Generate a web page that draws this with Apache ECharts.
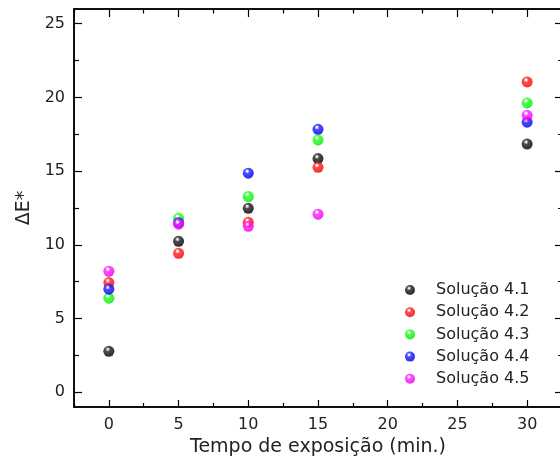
<!DOCTYPE html>
<html>
<head>
<meta charset="utf-8">
<script src="https://cdn.jsdelivr.net/npm/echarts@6/dist/echarts.min.js"></script>
<style>
  html, body { margin: 0; padding: 0; background: #fff; }
  #chart { width: 560px; height: 459px; }
</style>
</head>
<body>
<div id="chart"></div>
<script>
// Exposure time (min.)
const times = [0, 5, 10, 15, 30];

// ΔE* per solution at each exposure time
const sol41 = [2.78, 10.24, 12.48, 15.85, 16.84];
const sol42 = [7.44, 9.43, 11.53, 15.26, 21.05];
const sol43 = [6.38, 11.80, 13.28, 17.12, 19.63];
const sol44 = [6.99, 11.50, 14.86, 17.84, 18.32];
const sol45 = [8.21, 11.40, 11.26, 12.08, 18.79];

const seriesNames = ['Solução 4.1', 'Solução 4.2', 'Solução 4.3', 'Solução 4.4', 'Solução 4.5'];

// Tick positions
const xMajor = [0, 5, 10, 15, 20, 25, 30];
const xMinor = [-2.5, 2.5, 7.5, 12.5, 17.5, 22.5, 27.5, 32.5];
const yMajor = [0, 5, 10, 15, 20, 25];
const yMinor = [2.5, 7.5, 12.5, 17.5, 22.5];

const FONT = 'DejaVu Sans';

// Glossy sphere shading for each series colour
const palette = [
  { hi: '#c8c8c8', mid: '#202020', base: '#000000', dark: '#000000' },
  { hi: '#ffe0e0', mid: '#ff2020', base: '#ff0000', dark: '#d00000' },
  { hi: '#e8ffe8', mid: '#20ff20', base: '#00f800', dark: '#00c000' },
  { hi: '#e0e0ff', mid: '#2020ff', base: '#0000f8', dark: '#0000b8' },
  { hi: '#ffe8ff', mid: '#ff20ff', base: '#f800f8', dark: '#c000c0' }
];
function sphere(c) {
  return {
    type: 'radial', x: 0.4, y: 0.32, r: 0.72,
    colorStops: [
      { offset: 0, color: '#ffffff' },
      { offset: 0.12, color: c.hi },
      { offset: 0.3, color: c.mid },
      { offset: 0.78, color: c.base },
      { offset: 1, color: c.dark }
    ]
  };
}

const seriesData = [sol41, sol42, sol43, sol44, sol45];

const X_MIN = -2.5, X_MAX = 32.5, Y_MIN = -1, Y_MAX = 26;
const axisLine = { show: true, onZero: false, lineStyle: { color: '#000', width: 1.5 } };

function xAxisDef(pos, ticks, len, labels) {
  return {
    type: 'value', position: pos, min: X_MIN, max: X_MAX,
    axisLine: axisLine,
    axisTick: { show: true, inside: true, length: len, customValues: ticks, lineStyle: { color: '#000', width: 1.2 } },
    axisLabel: labels ? { show: true, customValues: xMajor, margin: 10, fontFamily: FONT, fontSize: 16, color: '#222' } : { show: false },
    splitLine: { show: false }
  };
}
function yAxisDef(pos, ticks, len, labels) {
  return {
    type: 'value', position: pos, min: Y_MIN, max: Y_MAX,
    axisLine: axisLine,
    axisTick: { show: true, inside: true, length: len, customValues: ticks, lineStyle: { color: '#000', width: 1.2 } },
    axisLabel: labels ? { show: true, customValues: yMajor, margin: 9, fontFamily: FONT, fontSize: 16, color: '#222' } : { show: false },
    splitLine: { show: false }
  };
}

const chart = echarts.init(document.getElementById('chart'), null, { renderer: 'canvas' });

const xAxes = [
  xAxisDef('bottom', xMajor, 7, true),
  xAxisDef('bottom', xMinor, 4, false),
  xAxisDef('top', xMajor, 8, false),
  xAxisDef('top', xMinor, 4.5, false)
];
xAxes[0].name = 'Tempo de exposição (min.)';
xAxes[0].nameLocation = 'middle';
xAxes[0].nameGap = 30;
xAxes[0].nameTextStyle = { fontFamily: FONT, fontSize: 19, color: '#222' };

const yAxes = [
  yAxisDef('left', yMajor, 8, true),
  yAxisDef('left', yMinor, 5, false),
  yAxisDef('right', yMajor, 7, false),
  yAxisDef('right', yMinor, 4, false)
];
yAxes[0].name = 'ΔE*';
yAxes[0].nameLocation = 'middle';
yAxes[0].nameGap = 33;
yAxes[0].nameRotate = 90;
yAxes[0].nameTextStyle = { fontFamily: FONT, fontSize: 19, color: '#222' };

chart.setOption({
  animation: false,
  backgroundColor: '#fff',
  grid: { left: 74, right: -2, top: 9, bottom: 52, containLabel: false, outerBoundsMode: 'none' },
  xAxis: xAxes,
  yAxis: yAxes,
  legend: {
    orient: 'vertical',
    left: 405, top: 282, padding: 0,
    itemWidth: 10, itemHeight: 10, itemGap: 6.2,
    icon: 'circle',
    textStyle: { fontFamily: FONT, fontSize: 16, color: '#222', padding: [0, 0, 0, 16], lineHeight: 16 },
    data: seriesNames
  },
  series: seriesData.map((vals, i) => ({
    name: seriesNames[i],
    type: 'scatter',
    symbol: 'circle',
    symbolSize: 11,
    itemStyle: { color: sphere(palette[i]) },
    data: times.map((t, k) => [t, vals[k]])
  }))
});
</script>
</body>
</html>
